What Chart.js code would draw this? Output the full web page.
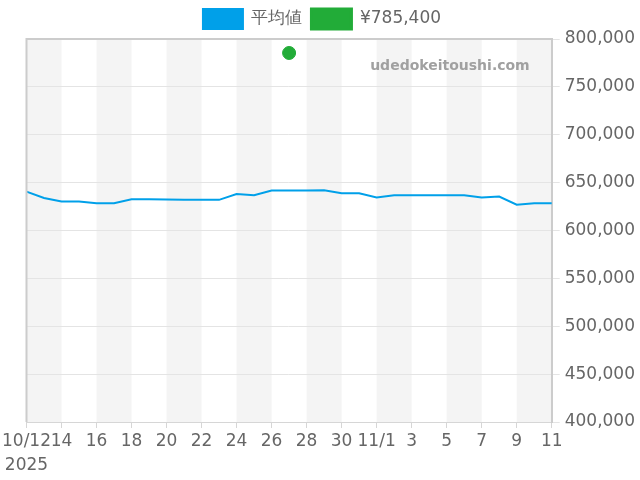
<!DOCTYPE html>
<html>
<head>
<meta charset="utf-8">
<script src="https://cdn.jsdelivr.net/npm/chart.js@4/dist/chart.umd.min.js"></script>
<style>
html,body{margin:0;padding:0;background:#fff;}
#wrap{width:640px;height:480px;}
</style>
</head>
<body>
<div id="wrap"><canvas id="c"></canvas></div>
<script>
const dateLabels = ["10/12","10/13","10/14","10/15","10/16","10/17","10/18","10/19","10/20","10/21","10/22","10/23","10/24","10/25","10/26","10/27","10/28","10/29","10/30","10/31","11/1","11/2","11/3","11/4","11/5","11/6","11/7","11/8","11/9","11/10","11/11"];
const tickText = ["10/12","","14","","16","","18","","20","","22","","24","","26","","28","","30","","11/1","","3","","5","","7","","9","","11"];
const yearText = "2025";
const averageValues = [640600,634000,630200,630200,628500,628500,632600,632600,632500,632000,632000,632000,638000,636800,641700,641700,641700,642000,639000,639000,634400,636800,636800,636800,636800,636800,634400,635400,627000,628500,628500];
const pointValues = [null,null,null,null,null,null,null,null,null,null,null,null,null,null,null,785400,null,null,null,null,null,null,null,null,null,null,null,null,null,null,null];
const seriesNames = ["平均値","¥785,400"];

const stripes = {
  id:'stripes',
  beforeDraw(chart){
    const {ctx, chartArea:a, scales:{x}} = chart;
    ctx.save();
    ctx.fillStyle = '#f4f4f4';
    for(let i=0;i<dateLabels.length-1;i+=4){
      const x0 = x.getPixelForValue(i);
      const x1 = x.getPixelForValue(Math.min(i+2, dateLabels.length-1));
      ctx.fillRect(x0, a.top, x1-x0, a.bottom-a.top);
    }
    ctx.restore();
  },
  afterDraw(chart){
    const {ctx, chartArea:a} = chart;
    ctx.save();
    ctx.strokeStyle = '#cccccc';
    ctx.lineWidth = 2;
    ctx.beginPath();
    ctx.moveTo(a.left, a.bottom);
    ctx.lineTo(a.left, a.top);
    ctx.lineTo(a.right, a.top);
    ctx.stroke();
    ctx.font = 'bold 14px "DejaVu Sans"';
    ctx.fillStyle = '#a0a0a0';
    ctx.textAlign = 'right';
    ctx.textBaseline = 'middle';
    ctx.fillText('udedokeitoushi.com', a.right - 22, a.top + 27);
    ctx.restore();
  }
};

Chart.defaults.font.family = '"DejaVu Sans", sans-serif';
Chart.defaults.color = '#666';

new Chart(document.getElementById('c'), {
  type: 'line',
  data: {
    labels: dateLabels,
    datasets: [
      {label: seriesNames[0], data: averageValues, borderColor:'#00a0e9', backgroundColor:'#00a0e9', borderWidth:2, pointRadius:0, tension:0, fill:false},
      {label: seriesNames[1], data: pointValues, borderColor:'#22ac38', backgroundColor:'#22ac38', pointRadius:6.5, showLine:false}
    ]
  },
  options: {
    responsive: true,
    maintainAspectRatio: false,
    animation: false,
    layout: {padding: {left: 4, right: 0, top: 0, bottom: 0}},
    plugins: {
      legend: {
        position:'top',
        labels: {boxWidth:40, boxHeight:20, font:{size:17}, padding:9, color:'#666'}
      },
      tooltip: {enabled:false}
    },
    scales: {
      x: {
        offset:false,
        grid: {drawOnChartArea:false, tickLength:6, color:'#d6d6d6',
          tickColor: c => (c.index % 2 === 0 ? '#d6d6d6' : 'rgba(0,0,0,0)')},
        border: {color:'#d6d6d6'},
        ticks: {
          autoSkip:false, maxRotation:0, font:{size:17, lineHeight:'24px'}, color:'#666', padding:2,
          callback: (v, i) => i === 0 ? [tickText[i], yearText] : tickText[i]
        }
      },
      y: {
        position:'right',
        min:400000, max:800000,
        grid: {color:'#e4e4e4', tickLength:8},
        border: {color:'#cccccc', width:2},
        ticks: {stepSize:50000, font:{size:17}, color:'#666', padding:5,
          callback: v => v.toLocaleString('en-US')}
      }
    }
  },
  plugins: [stripes]
});
</script>
</body>
</html>
